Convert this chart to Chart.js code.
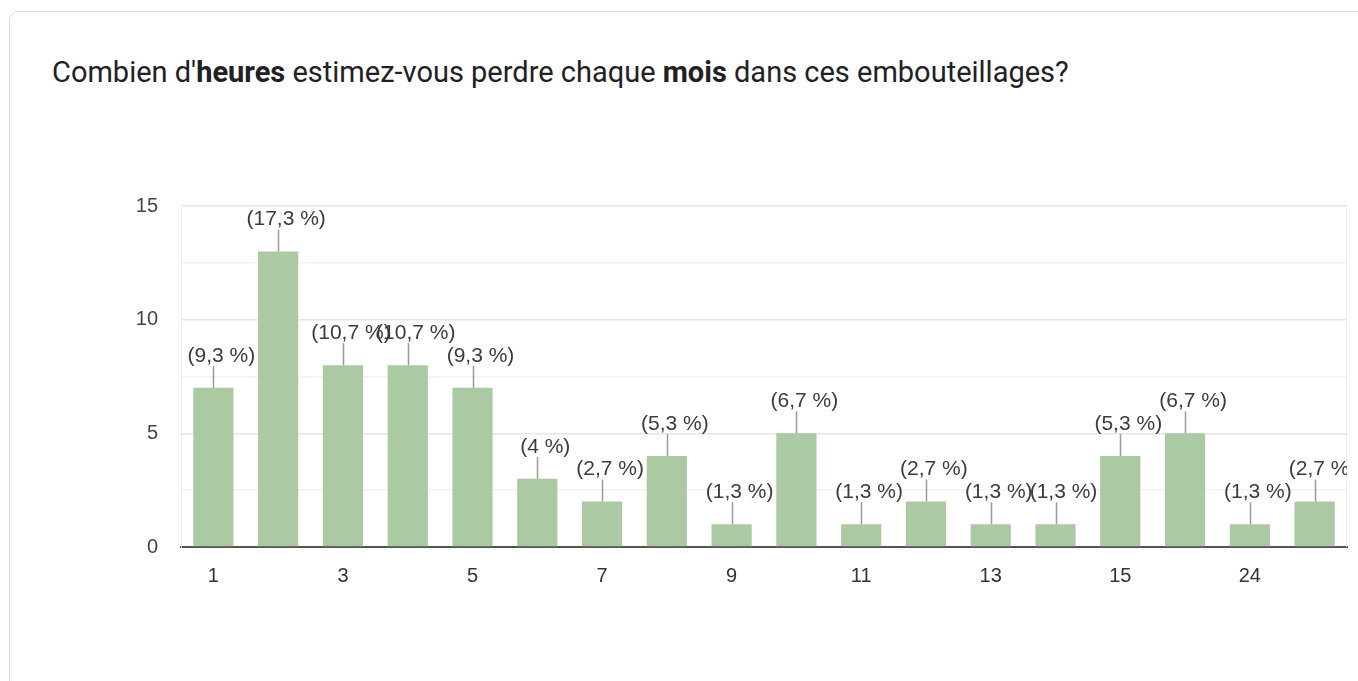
<!DOCTYPE html>
<html>
<head>
<meta charset="utf-8">
<script src="https://cdn.jsdelivr.net/npm/chart.js@4.4.1/dist/chart.umd.min.js"></script>
<style>
  html, body { margin: 0; padding: 0; background: #ffffff; width: 1358px; height: 681px; overflow: hidden; }
  #card { position: absolute; left: 9px; top: 11px; width: 1420px; height: 800px; border: 1px solid #dadce0; border-radius: 9px; background: #fff; box-sizing: border-box; }
  #title { position: absolute; left: 52px; top: 56px; font-family: Roboto, "Noto Sans", sans-serif; font-size: 29px; color: #202124; white-space: nowrap; line-height: 32px; }
  #title b { font-weight: 700; }
  #wrap { position: absolute; left: 0; top: 0; width: 1358px; height: 681px; }
</style>
</head>
<body>
<div id="card"></div>
<div id="title">Combien d'<b>heures</b> estimez-vous perdre chaque <b>mois</b> dans ces embouteillages?</div>
<div id="wrap"><canvas id="c" width="1358" height="681"></canvas></div>
<script>
const categories = ["1","2","3","4","5","6","7","8","9","10","11","12","13","14","15","20","24","30"];
const counts = [7, 13, 8, 8, 7, 3, 2, 4, 1, 5, 1, 2, 1, 1, 4, 5, 1, 2];
const yTicks = [0, 5, 10, 15];

const total = counts.reduce((a, b) => a + b, 0);
function pctLabel(v) {
  const p = Math.round(v / total * 1000) / 10;
  let s = (p % 1 === 0) ? String(p) : p.toFixed(1);
  return "(" + s.replace(".", ",") + " %)";
}

const labelPlugin = {
  id: 'pctLabels',
  afterDatasetsDraw(chart) {
    const ctx = chart.ctx;
    const area = chart.chartArea;
    const meta = chart.getDatasetMeta(0);
    ctx.save();
    ctx.strokeStyle = '#ebebeb';
    ctx.lineWidth = 1;
    ctx.beginPath();
    ctx.moveTo(area.right - 0.5, area.top);
    ctx.lineTo(area.right - 0.5, area.bottom);
    ctx.stroke();
    ctx.beginPath();
    ctx.rect(0, 0, area.right, chart.height);
    ctx.clip();
    ctx.font = '21px "Liberation Sans", Arial, sans-serif';
    ctx.fillStyle = '#3c3c3c';
    ctx.textAlign = 'center';
    ctx.textBaseline = 'middle';
    meta.data.forEach((bar, i) => {
      const x = Math.round(bar.x) + 0.5;
      ctx.strokeStyle = '#9a9a9a';
      ctx.lineWidth = 1.5;
      ctx.beginPath();
      ctx.moveTo(x, bar.y);
      ctx.lineTo(x, bar.y - 22);
      ctx.stroke();
      ctx.fillText(pctLabel(counts[i]), bar.x + 8, bar.y - 32);
    });
    ctx.restore();
  }
};

new Chart(document.getElementById('c'), {
  type: 'bar',
  data: {
    labels: categories,
    datasets: [{
      data: counts,
      backgroundColor: '#abc9a3',
      borderWidth: 0,
      barPercentage: 0.62,
      categoryPercentage: 1.0
    }]
  },
  options: {
    responsive: false,
    animation: false,
    events: [],
    layout: { padding: { left: 0, right: 11, top: 206, bottom: 0 } },
    plugins: { legend: { display: false }, tooltip: { enabled: false }, title: { display: false } },
    scales: {
      x: {
        grid: { display: false, drawTicks: false },
        border: { display: true, color: '#555555', width: 2 },
        afterFit(scale) { scale.height = 134; },
        ticks: {
          autoSkip: false,
          maxRotation: 0,
          padding: 17,
          color: '#333333',
          font: { family: '"Liberation Sans", Arial, sans-serif', size: 20 },
          callback(value, index) { return index % 2 === 0 ? categories[index] : ''; }
        }
      },
      y: {
        min: 0,
        max: 15,
        afterFit(scale) { scale.width = 181; },
        afterBuildTicks(scale) {
          const t = [];
          for (let v = 0; v <= 15; v += 2.5) t.push({ value: v });
          scale.ticks = t;
        },
        grid: {
          drawTicks: false,
          color(ctx) {
            const v = ctx.tick ? ctx.tick.value : 0;
            return yTicks.includes(v) ? '#e6e6e6' : '#f3f3f3';
          },
          lineWidth: 1.5
        },
        border: { display: true, color: '#ebebeb', width: 1 },
        ticks: {
          padding: 23,
          color: '#444444',
          font: { family: '"Liberation Sans", Arial, sans-serif', size: 20 },
          callback(value) { return yTicks.includes(value) ? String(value) : ''; }
        }
      }
    }
  },
  plugins: [labelPlugin]
});
</script>
</body>
</html>
